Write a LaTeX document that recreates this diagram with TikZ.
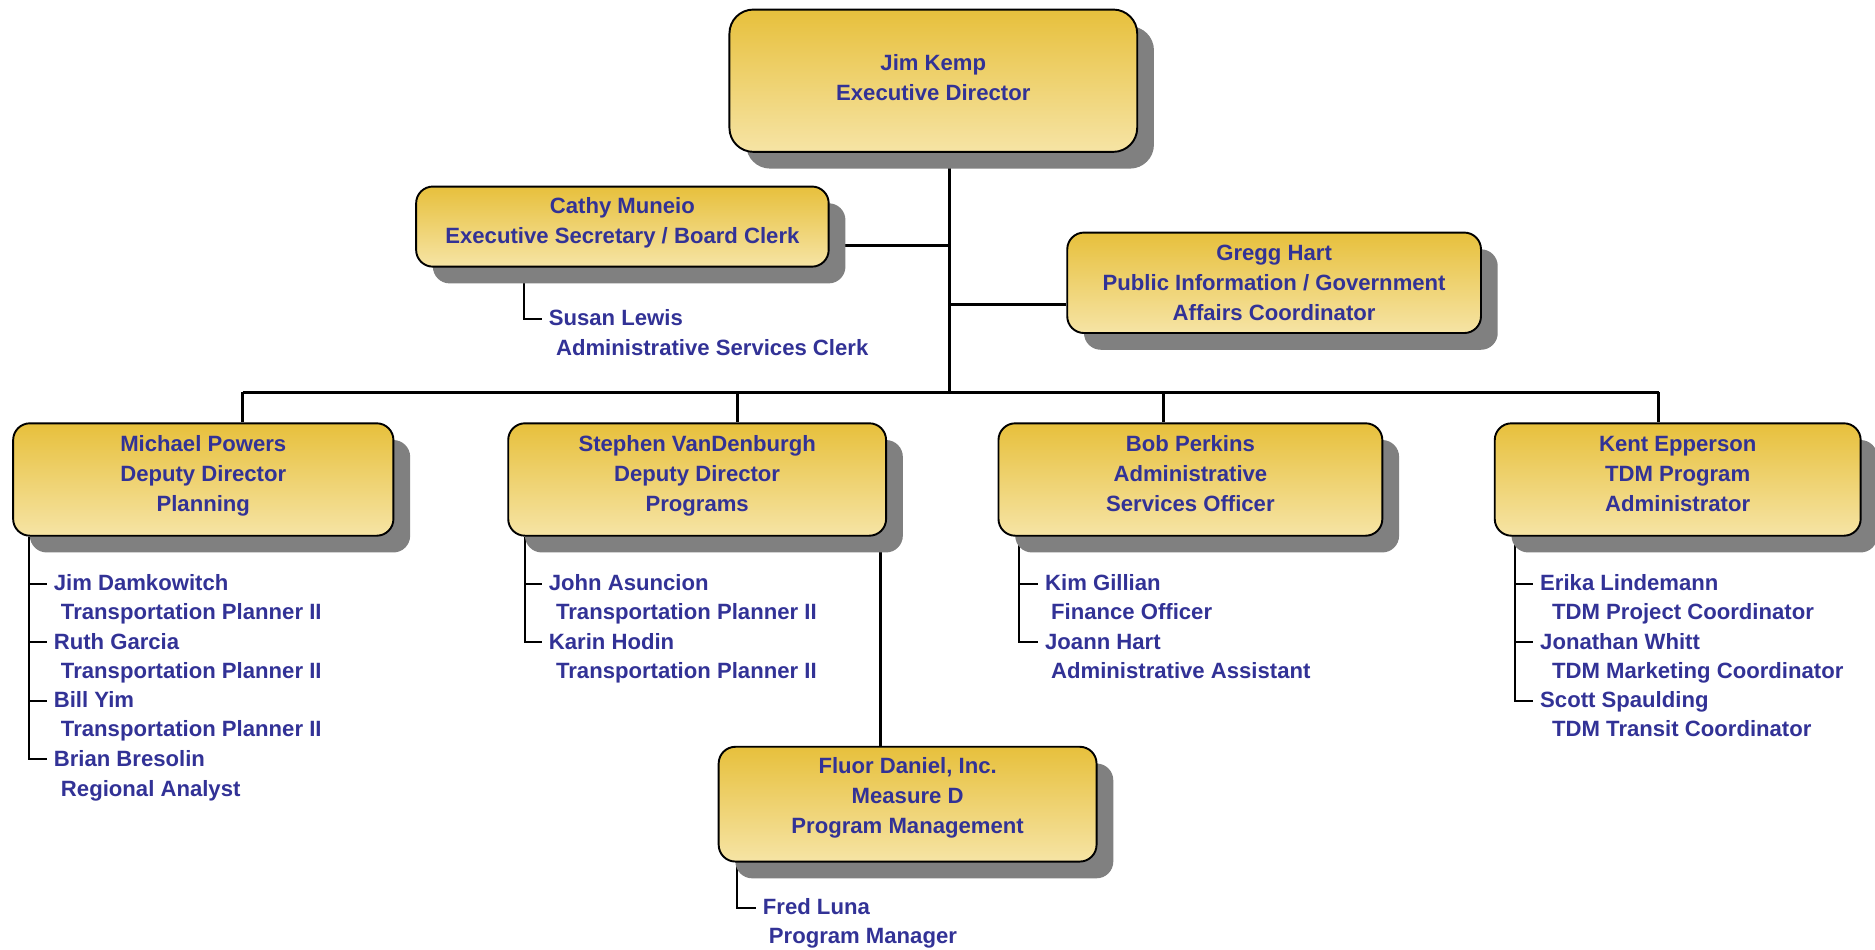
\documentclass[tikz,border=0pt]{standalone}
\usepackage{fontspec}
\setmainfont{Liberation Sans}
\usetikzlibrary{shadows,backgrounds}

\definecolor{namecol}{RGB}{50,50,150}
\definecolor{goldtop}{RGB}{231,192,60}
\definecolor{goldbot}{RGB}{246,228,165}
\definecolor{shadowgray}{RGB}{128,128,128}

\tikzset{
  box/.style={draw=black, line width=1.6pt, rounded corners=14pt,
    top color=goldtop, bottom color=goldbot, inner sep=0pt, align=center,
    text=namecol, font=\bfseries\fontsize{18.5}{25}\selectfont, text depth=10pt,
    drop shadow={shadow xshift=14pt, shadow yshift=-14pt, fill=shadowgray, opacity=1}},
  staff/.style={anchor=west, inner sep=0pt, outer xsep=6pt, text=namecol,
    font=\bfseries\fontsize{18.5}{25}\selectfont, text height=15pt, text depth=3pt},
  link/.style={line width=2.5pt},
  tick/.style={line width=1.7pt}
}

\begin{document}
\begin{tikzpicture}[x=1pt, y=-1pt]

    \useasboundingbox (0,0) rectangle (1568,794.4);

    % Top of the chart
    \node[box, rounded corners=20pt, text depth=6pt, minimum width=341pt, minimum height=119pt] (jk) at (780.5,67.5) {Jim Kemp\\Executive Director};
    \node[box, minimum width=345pt, minimum height=67pt] (cm) at (520.5,189.5) {Cathy Muneio\\Executive Secretary / Board Clerk};
    \node[box, text depth=0pt, minimum width=346pt, minimum height=84pt] (gh) at (1065.5,236.5) {Gregg Hart\\Public Information / Government\\Affairs Coordinator};

    % Deputy level
    \node[box, minimum width=318pt, minimum height=94pt] (mp) at (170,401) {Michael Powers\\Deputy Director\\Planning};
    \node[box, minimum width=316pt, minimum height=94pt] (sv) at (583,401) {Stephen VanDenburgh\\Deputy Director\\Programs};
    \node[box, minimum width=321pt, minimum height=94pt] (bp) at (995.5,401) {Bob Perkins\\Administrative\\Services Officer};
    \node[box, minimum width=306pt, minimum height=94pt] (ke) at (1403,401) {Kent Epperson\\TDM Program\\Administrator};
    \node[box, text depth=14pt, minimum width=316pt, minimum height=96pt] (fl) at (759,672.5) {Fluor Daniel, Inc.\\Measure D\\Program Management};

    % Staff under Cathy Muneio
    \node[staff] (slew) at (453,266.5) {Susan Lewis};
    \node[staff] (slewT) at (459,291) {Administrative Services Clerk};

    % Staff under Michael Powers
    \node[staff] (jdam) at (39,488) {Jim Damkowitch};
    \node[staff] (jdamT) at (45,512) {Transportation Planner II};
    \node[staff] (rgar) at (39,537) {Ruth Garcia};
    \node[staff] (rgarT) at (45,561) {Transportation Planner II};
    \node[staff] (byim) at (39,586) {Bill Yim};
    \node[staff] (byimT) at (45,610) {Transportation Planner II};
    \node[staff] (bbre) at (39,635) {Brian Bresolin};
    \node[staff] (bbreT) at (45,660) {Regional Analyst};

    % Staff under Stephen VanDenburgh
    \node[staff] (jasu) at (453,488) {John Asuncion};
    \node[staff] (jasuT) at (459,512) {Transportation Planner II};
    \node[staff] (khod) at (453,537) {Karin Hodin};
    \node[staff] (khodT) at (459,561) {Transportation Planner II};

    % Staff under Bob Perkins
    \node[staff] (kgil) at (868,488) {Kim Gillian};
    \node[staff] (kgilT) at (873,512) {Finance Officer};
    \node[staff] (jhar) at (868,537) {Joann Hart};
    \node[staff] (jharT) at (873,561) {Administrative Assistant};

    % Staff under Kent Epperson
    \node[staff] (elin) at (1282,488) {Erika Lindemann};
    \node[staff] (elinT) at (1292,512) {TDM Project Coordinator};
    \node[staff] (jwhi) at (1282,537) {Jonathan Whitt};
    \node[staff] (jwhiT) at (1292,561) {TDM Marketing Coordinator};
    \node[staff] (sspa) at (1282,586) {Scott Spaulding};
    \node[staff] (sspaT) at (1292,610) {TDM Transit Coordinator};

    % Staff under Fluor Daniel
    \node[staff] (fred) at (632,759) {Fred Luna};
    \node[staff] (fredT) at (637,783) {Program Manager};

    \begin{scope}[on background layer]
        % Main trunk and bus
        \coordinate (bus) at (794,328);
        \coordinate (dmp) at (203,328);
        \coordinate (dsv) at (617,328);
        \coordinate (dbp) at (973,328);
        \coordinate (dke) at (1387,328);
        \draw[link] (jk.south -| bus) -- (bus);
        \draw[link] (dmp) -- (dke);
        \draw[link] ([yshift=-16pt]cm.east) -- ([yshift=-16pt]cm.east -| bus);
        \draw[link] ([yshift=-18pt]gh.west) -- ([yshift=-18pt]gh.west -| bus);
        \draw[link] (dmp) -- (dmp |- mp.north);
        \draw[link] (dsv) -- (dsv |- sv.north);
        \draw[link] (dbp) -- (dbp |- bp.north);
        \draw[link] (dke) -- (dke |- ke.north);
        \draw[link] ([xshift=153pt]sv.south) -- ([xshift=153pt]sv.south |- fl.north);

        % Staff lines
        \coordinate (cml) at ([xshift=91pt]cm.south west);
        \draw[tick] (cml) |- (slew.west);

        \coordinate (mpl) at ([xshift=14pt]mp.south west);
        \draw[tick] (mpl) |- (bbre.west);
        \draw[tick] (mpl |- jdam.west) -- (jdam.west);
        \draw[tick] (mpl |- rgar.west) -- (rgar.west);
        \draw[tick] (mpl |- byim.west) -- (byim.west);

        \coordinate (svl) at ([xshift=15pt]sv.south west);
        \draw[tick] (svl) |- (khod.west);
        \draw[tick] (svl |- jasu.west) -- (jasu.west);

        \coordinate (bpl) at ([xshift=18pt]bp.south west);
        \draw[tick] (bpl) |- (jhar.west);
        \draw[tick] (bpl |- kgil.west) -- (kgil.west);

        \coordinate (kel) at ([xshift=18pt]ke.south west);
        \draw[tick] (kel) |- (sspa.west);
        \draw[tick] (kel |- elin.west) -- (elin.west);
        \draw[tick] (kel |- jwhi.west) -- (jwhi.west);

        \coordinate (fll) at ([xshift=16pt]fl.south west);
        \draw[tick] (fll) |- (fred.west);
    \end{scope}

\end{tikzpicture}
\end{document}
